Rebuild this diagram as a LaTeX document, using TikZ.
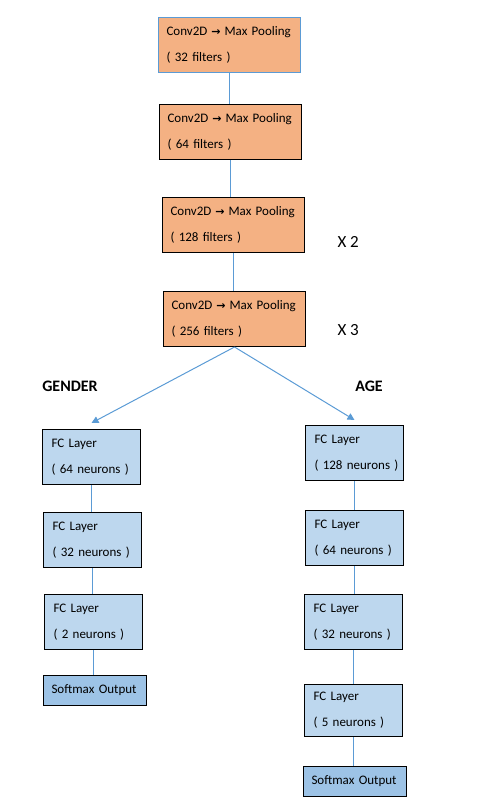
\documentclass[tikz,border=0pt]{standalone}
\usepackage{fontspec}
\setmainfont{Carlito}
\newfontfamily\symfont{DejaVu Sans}
\usetikzlibrary{arrows.meta}
\tikzset{
  box/.style     = {draw=black, line width=1pt, anchor=north west,
                    align=left, inner ysep=0pt,
                    font=\fontsize{13}{26}\selectfont},
  convbox/.style = {box, fill=convfill, minimum width=142pt,
                    minimum height=55pt, inner xsep=8pt, text width=126pt},
  fcbox/.style   = {box, fill=fcfill, minimum width=98pt,
                    minimum height=55pt, inner xsep=9pt, text width=80pt},
  outbox/.style  = {box, fill=outfill, minimum width=103pt,
                    minimum height=30pt, inner xsep=8pt, text width=87pt},
  link/.style    = {draw=linkblue, line width=1pt},
  branch/.style  = {link, -{Triangle[length=7pt,width=7pt]}},
  repeat/.style  = {anchor=west, font=\fontsize{17}{17}\selectfont},
  head/.style    = {font=\fontsize{16}{16}\selectfont\bfseries}
}
\definecolor{convfill}{HTML}{F4B183}
\definecolor{fcfill}{HTML}{BDD7EE}
\definecolor{outfill}{HTML}{9DC3E6}
\definecolor{linkblue}{HTML}{5B9BD5}
\def\To{\hspace{4pt}{\symfont\fontsize{11}{11}\selectfont\bfseries →}\hspace{4pt}}
\def\Conv#1{Conv2D\To Max Pooling\\( #1 filters )}
\def\Fc#1{FC Layer\\\mbox{( #1 neurons )}}
\begin{document}
\begin{tikzpicture}[x=1pt, y=-1pt]
  \useasboundingbox (0,0) rectangle (483,805);
  % shared convolution trunk
  \node[convbox, draw=linkblue] (c1) at (158,17)  {\Conv{32}};
  \node[convbox] (c2) at (159,104) {\Conv{64}};
  \node[convbox] (c3) at (162,197) {\Conv{128}};
  \node[convbox] (c4) at (163,291) {\Conv{256}};
  \node[repeat] (r2) at (334,242) {X 2};
  \node[repeat] (r3) at (334,330) {X 3};

  % gender head
  \node[head] (gender) at (70,386) {GENDER};
  \node[fcbox] (g1) at (42,429) {\Fc{64}};
  \node[fcbox] (g2) at (43,512) {\Fc{32}};
  \node[fcbox] (g3) at (44,594) {\Fc{2}};
  \node[outbox] (gs) at (43,675) {Softmax Output};

  % age head
  \node[head] (age) at (369,386) {AGE};
  \node[fcbox] (a1) at (305,425) {\Fc{128}};
  \node[fcbox] (a2) at (305,510) {\Fc{64}};
  \node[fcbox] (a3) at (304,594) {\Fc{32}};
  \node[fcbox, minimum height=52pt] (a4) at (304,684) {\Fc{5}};
  \node[outbox] (as) at (303,766) {Softmax Output};

  \draw[link] (c1.south) -- (c1.south |- c2.north);
  \draw[link] (c2.south) -- (c2.south |- c3.north);
  \draw[link] (c3.south) -- (c3.south |- c4.north);
  \draw[branch] (c4.south) -- ([yshift=6pt]g1.north);
  \draw[branch] (c4.south) -- ([yshift=5pt]a1.north);
  \foreach \u/\v in {g1/g2, g2/g3, g3/gs, a1/a2, a2/a3, a3/a4, a4/as}
    \draw[link] (\u.south) -- (\u.south |- \v.north);
\end{tikzpicture}
\end{document}
